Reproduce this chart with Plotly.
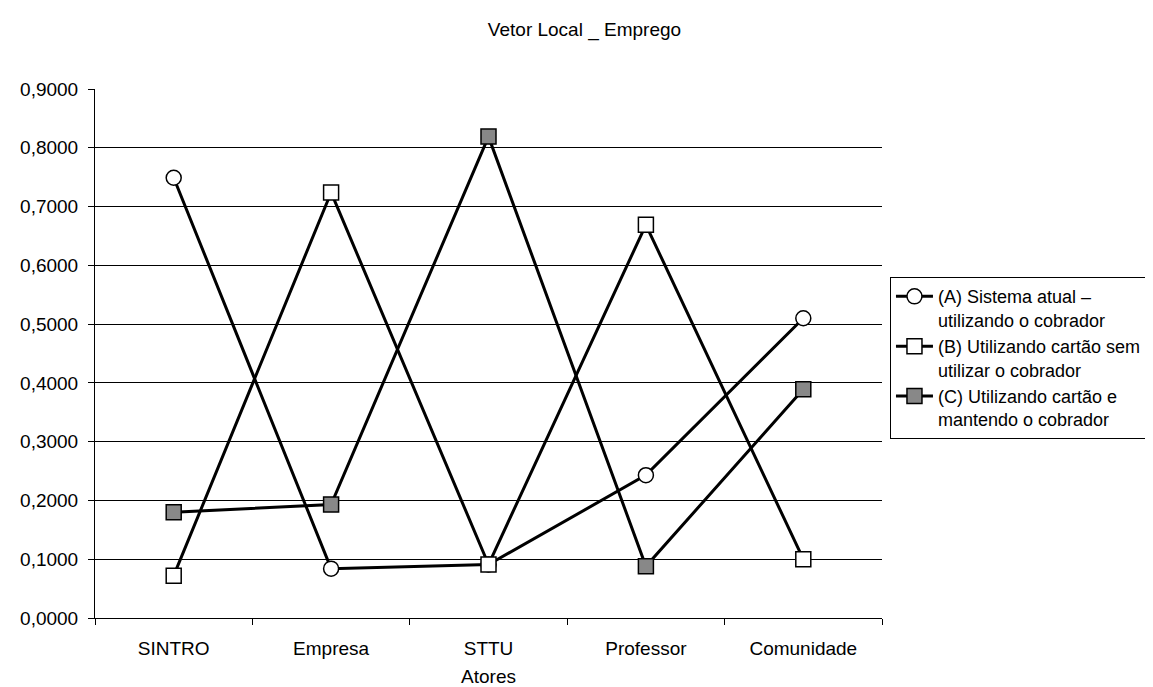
import plotly.graph_objects as go

categories = ["SINTRO", "Empresa", "STTU", "Professor", "Comunidade"]
serie_a = [0.749, 0.084, 0.091, 0.243, 0.510]
serie_b = [0.072, 0.724, 0.091, 0.669, 0.100]
serie_c = [0.180, 0.193, 0.819, 0.088, 0.389]
names = [
    "(A) Sistema atual –<br>utilizando o cobrador",
    "(B) Utilizando cartão sem<br>utilizar o cobrador",
    "(C) Utilizando cartão e<br>mantendo o cobrador",
]
y_ticks = [0.0, 0.1, 0.2, 0.3, 0.4, 0.5, 0.6, 0.7, 0.8, 0.9]
y_tick_text = ["0,0000", "0,1000", "0,2000", "0,3000", "0,4000",
               "0,5000", "0,6000", "0,7000", "0,8000", "0,9000"]

FONT = "Liberation Sans, Arial, sans-serif"
FS = 19

fig = go.Figure()
styles = [
    dict(symbol="circle", color="white", size=15),
    dict(symbol="square", color="white", size=15),
    dict(symbol="square", color="#888888", size=15),
]
for vals, name, st in zip([serie_a, serie_b, serie_c], names, styles):
    fig.add_trace(go.Scatter(
        x=categories, y=vals, name=name, mode="lines+markers",
        line=dict(color="black", width=3),
        marker=dict(symbol=st["symbol"], size=st["size"], color=st["color"],
                    line=dict(color="black", width=1.5)),
    ))

fig.update_layout(
    width=1153, height=687,
    paper_bgcolor="white", plot_bgcolor="white",
    margin=dict(l=84, r=279, t=81, b=69),
    font=dict(family=FONT, size=FS, color="black"),
    title=dict(text="Vetor Local _ Emprego", x=0.5, xref="container", xanchor="center",
               y=1 - 21 / 687, yref="container", yanchor="middle",
               font=dict(family=FONT, size=FS, color="black")),
    showlegend=True,
    legend=dict(x=(882 - 84) / 790, xanchor="left", y=(618 - 272) / 537, yanchor="top",
                bordercolor="black", borderwidth=1, bgcolor="white",
                valign="top", tracegroupgap=0,
                font=dict(family=FONT, size=18, color="black"),
                itemwidth=37),
)
fig.update_xaxes(
    type="category", tickson="boundaries", ticks="outside", ticklen=6,
    tickcolor="black", showline=True, linecolor="black", linewidth=1,
    showgrid=False, range=[-0.5, 4.5], ticklabelstandoff=13,
    title=dict(text="Atores", standoff=11, font=dict(family=FONT, size=FS)),
    tickfont=dict(family=FONT, size=FS),
)
fig.update_yaxes(
    range=[0, 0.9], tickvals=y_ticks, ticktext=y_tick_text,
    ticks="outside", ticklen=6, tickcolor="black",
    showline=True, linecolor="black", linewidth=1,
    showgrid=True, gridcolor="black", gridwidth=1,
    zeroline=False, tickfont=dict(family=FONT, size=FS),
    ticklabelstandoff=6,
)

fig.write_html("out.html")
